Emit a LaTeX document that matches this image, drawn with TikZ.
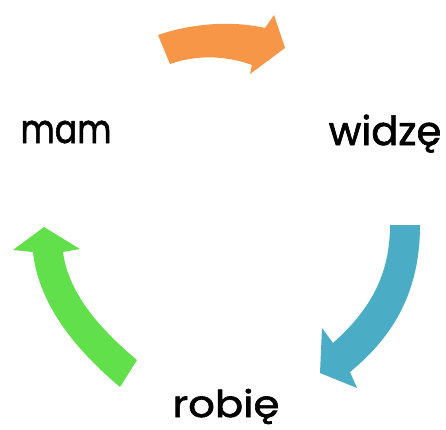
\documentclass[tikz,border=0pt]{standalone}
\usepackage{graphicx}
\usepackage{fontspec}
\setmainfont{Poppins}[FakeBold=1.6]
\definecolor{arrorange}{HTML}{F79646}
\definecolor{arrblue}{HTML}{4BACC6}
\definecolor{arrgreen}{HTML}{62E04B}
\begin{document}
\begin{tikzpicture}[x=1pt,y=-1pt,
  word/.style={anchor=base,inner sep=0pt}]
\useasboundingbox (0,0) rectangle (446,429);
% words
\node[word] (mam) at (66,143) {\fontsize{40}{48}\selectfont\scalebox{0.83}[1]{mam}};
\node[word] (widze) at (385,145) {\fontsize{40}{48}\selectfont\scalebox{1.0}[1]{widzę}};
\node[word] (robie) at (226,417) {\fontsize{37}{44}\selectfont\scalebox{1.13}[1]{robię}};
% orange arrow (mam -> widze)
\fill[arrorange] (158,35) .. controls (190,24) and (230,20) .. (265,28)
  -- (274,15) -- (285,48) -- (250,74) -- (252,65)
  .. controls (225,55) and (195,55) .. (170,64) -- cycle;
% blue arrow (widze -> robie)
\fill[arrblue] (390,225) .. controls (390,275) and (370,310) .. (333,343)
  -- (322,328) -- (320,373) -- (357,388) -- (350,372)
  .. controls (395,335) and (420,290) .. (420,225) -- cycle;
% green arrow (robie -> mam)
\fill[arrgreen] (120,387) .. controls (70,345) and (38,300) .. (33,252)
  -- (13,250) -- (44,227) -- (80,249) -- (63,252)
  .. controls (68,290) and (95,325) .. (137,360) -- cycle;
\end{tikzpicture}
\end{document}
